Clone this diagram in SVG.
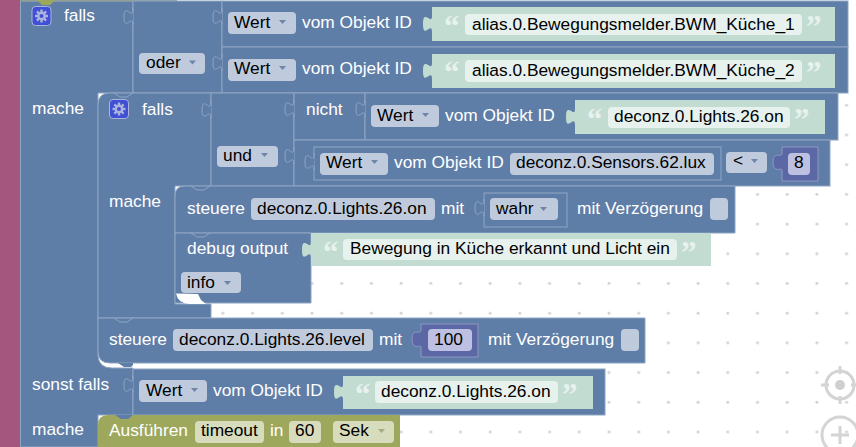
<svg xmlns="http://www.w3.org/2000/svg" width="856" height="447" viewBox="0 0 856 447">
<defs>
<pattern id="dots" x="0" y="0" width="29.7" height="29.7" patternUnits="userSpaceOnUse"><circle cx="15" cy="16" r="1.5" fill="#d2d2d2"/></pattern>
<g id="gear"><rect x="-9.500" y="-9.500" width="19" height="19" rx="3.500" fill="#3f4fd6" stroke="#aab4dc"/><path d="M0-6.500V6.500M-6.500 0H6.500M-4.600-4.600L4.600 4.600M-4.600 4.600L4.600-4.600" stroke="#aab4dc" stroke-width="2.400"/><circle r="4.400" fill="#aab4dc"/><circle r="2" fill="#3f4fd6"/></g>
<path id="tab" d="M0 0v2c0 10-9-8-9 7s9-3 9 7v1" fill="#5f7ea7" stroke="#8fa5c4"/>
<path id="gtab" d="M0 0v2c0 10-9-8-9 8s9-3 9 8v1" fill="#c3dcd2"/>
<path id="notch" d="M0 0l6 4h7l6-4" fill="none" stroke="#8fa5c4"/>
</defs>
<style>
text{font-family:"Liberation Sans",Arial,sans-serif;font-size:17.33px}
.w{fill:#fff}
.k{fill:#000}
.b{fill:#5f7ea7;stroke:#8fa5c4;stroke-width:1}
.s{fill:#c3dcd2}
.f{fill:#bfcbdd}
.v{fill:#bdc0e0}
.g{fill:#e7f1ed}
.q{font-family:"Liberation Serif",serif;font-size:31px;font-weight:bold;fill:#e7f1ed}
.a{fill:#6f84a8}
.n{fill:#5c68a6;stroke:#8f97c4}
.o{fill:#d7dcbc}
</style>
<rect width="856" height="447" fill="#fff"/>
<rect width="856" height="447" fill="url(#dots)"/>
<g id="controls" fill="none" stroke="#d4d4d4" stroke-width="3"><circle cx="840" cy="385" r="14"/><path d="M840 366v8M840 396v8M821 385h8M851 385h8"/><circle cx="840" cy="385" r="5" fill="#d0d0d0" stroke="none"/><circle cx="840" cy="435" r="18"/><path d="M840 426v18M831 435h18"/></g>
<rect id="sidebar" width="20" height="447" fill="#a5567f"/>
<g id="outer-if">
<path class="b" d="M20.500 1H133V93H98V356Q99 368 112 368H133V415H98V447H20.500Z"/>
<path d="M20 0H177V1.500H20Z" fill="#8f9f96"/><path d="M37 0l5 5h8l5-5Z" fill="#9da85c"/>
<text class="w" x="64" y="21">falls</text><text class="w" x="32" y="114">mache</text><text class="w" x="32" y="390">sonst falls</text><text class="w" x="32" y="435">mache</text>
<use href="#gear" x="41.500" y="16"/>
</g>
<g id="oder"><rect class="b" x="133" y="1" width="89" height="92"/><use href="#tab" x="133" y="8"/><rect class="f" x="139" y="53" width="66" height="21" rx="4"/><text class="k" x="146" y="68">oder</text><path class="a" d="M189 60.500h7l-3.500 4z"/></g>
<g id="wert1"><rect class="b" x="222" y="1" width="626" height="46"/><use href="#tab" x="222" y="8"/><rect class="f" x="228" y="12" width="68" height="22" rx="4"/><text class="k" x="234" y="28">Wert</text><path class="a" d="M279 20h7l-3.500 4z"/><text class="w" x="302" y="28">vom Objekt ID</text><rect class="s" x="432" y="7" width="403" height="34"/><use href="#gtab" x="432" y="14"/><text class="q" x="444" y="37">“</text><rect class="g" x="465" y="14" width="337" height="21" rx="4"/><text class="k" x="472" y="30">alias.0.Bewegungsmelder.BWM_Küche_1</text><text class="q" x="806" y="37">”</text></g>
<g id="wert2"><rect class="b" x="222" y="47" width="626" height="46"/><use href="#tab" x="222" y="54"/><rect class="f" x="228" y="59" width="68" height="22" rx="4"/><text class="k" x="234" y="74">Wert</text><path class="a" d="M279 66h7l-3.500 4z"/><text class="w" x="302" y="74">vom Objekt ID</text><rect class="s" x="432" y="54" width="403" height="34"/><use href="#gtab" x="432" y="61"/><text class="q" x="444" y="83">“</text><rect class="g" x="465" y="60" width="337" height="22" rx="4"/><text class="k" x="472" y="76">alias.0.Bewegungsmelder.BWM_Küche_2</text><text class="q" x="806" y="83">”</text></g>
<g id="inner-if"><path class="b" d="M98 105Q98 93 110 93H211V186H175V304H211V318H98Z"/><use href="#notch" x="114" y="93"/><text class="w" x="142" y="115">falls</text><text class="w" x="109" y="207">mache</text><use href="#gear" x="119" y="109"/></g>
<g id="und"><rect class="b" x="211" y="93" width="83" height="93"/><use href="#tab" x="211" y="101"/><rect class="f" x="217" y="146" width="61" height="21" rx="4"/><text class="k" x="223" y="161">und</text><path class="a" d="M261 153h7l-3.500 4z"/></g>
<g id="nicht"><rect class="b" x="294" y="93" width="71" height="47"/><use href="#tab" x="294" y="100"/><text class="w" x="306" y="115">nicht</text></g>
<g id="wert3"><rect class="b" x="365" y="93" width="473" height="47"/><use href="#tab" x="365" y="100"/><rect class="f" x="371" y="105" width="68" height="22" rx="4"/><text class="k" x="377" y="121">Wert</text><path class="a" d="M422 113h7l-3.500 4z"/><text class="w" x="445" y="121">vom Objekt ID</text><rect class="s" x="575" y="100" width="250" height="34"/><use href="#gtab" x="575" y="107"/><rect class="g" x="608" y="107" width="182" height="21" rx="4"/><text class="k" x="614" y="122">deconz.0.Lights.26.on</text><text class="q" x="587" y="130">“</text><text class="q" x="794" y="130">”</text></g>
<g id="compare"><rect class="b" x="294" y="140" width="536" height="46"/><use href="#tab" x="294" y="147"/><rect class="f" x="726" y="152" width="41" height="21" rx="4"/><text class="k" x="733" y="166">&lt;</text><path class="a" d="M751 159h7l-3.500 4z"/></g>
<g id="wert4"><rect class="b" x="314" y="147" width="407" height="33"/><use href="#tab" x="314" y="153"/><rect class="f" x="320" y="153" width="68" height="22" rx="4"/><text class="k" x="326" y="168">Wert</text><path class="a" d="M371 160h7l-3.500 4z"/><text class="w" x="394" y="168">vom Objekt ID</text><rect class="f" x="510" y="153" width="204" height="22" rx="4"/><text class="k" x="516" y="168">deconz.0.Sensors.62.lux</text></g>
<g id="num8"><path class="n" d="M782 147H818V181H782V170c0-3-9 4-9-8s9-3 9-9Z"/><rect class="v" x="788" y="153" width="22" height="22" rx="4"/><text class="k" x="794" y="168">8</text></g>
<g id="steuere1"><path class="b" d="M175 196Q175 186 185 186H735V233H175Z"/><use href="#notch" x="191" y="186"/><text class="w" x="187" y="214">steuere</text><rect class="f" x="251" y="198" width="184" height="22" rx="4"/><text class="k" x="257" y="214">deconz.0.Lights.26.on</text><text class="w" x="441" y="214">mit</text><rect class="b" x="484" y="193" width="83" height="34"/><use href="#tab" x="484" y="199"/><rect class="f" x="490" y="198" width="68" height="22" rx="4"/><text class="k" x="496" y="214">wahr</text><path class="a" d="M540 207h7l-3.500 4z"/><text class="w" x="577" y="214">mit Verzögerung</text><rect class="f" x="710" y="198" width="18" height="22" rx="4"/></g>
<g id="debug"><path class="b" d="M175 233H311V303H175Z"/><use href="#notch" x="191" y="233"/><path d="M176 293.500L198 294l3 6 5 4H190Q178 304 176 293.500Z" fill="#fff"/><text class="w" x="187" y="254">debug output</text><rect class="s" x="311" y="233" width="400" height="33"/><use href="#gtab" x="311" y="240"/><rect class="g" x="343" y="239" width="334" height="21" rx="4"/><text class="k" x="350" y="254">Bewegung in Küche erkannt und Licht ein</text><text class="q" x="323" y="263">“</text><text class="q" x="681" y="263">”</text><rect class="f" x="181" y="272" width="60" height="21" rx="4"/><text class="k" x="187" y="288">info</text><path class="a" d="M224 281h7l-3.500 4z"/></g>
<g id="steuere2"><path class="b" d="M98 318H645V363H110Q98 363 98 351Z"/><use href="#notch" x="114" y="318"/><path d="M118 363l6 4h7l2-2v-2Z" fill="#5f7ea7"/><text class="w" x="109" y="345">steuere</text><rect class="f" x="173" y="329" width="200" height="22" rx="4"/><text class="k" x="179" y="345">deconz.0.Lights.26.level</text><text class="w" x="379" y="345">mit</text><path class="n" d="M421 324H478V357H421V347c0-3-9 4-9-8s9-3 9-9Z"/><rect class="v" x="428" y="329" width="44" height="22" rx="4"/><text class="k" x="434" y="345">100</text><text class="w" x="488" y="345">mit Verzögerung</text><rect class="f" x="621" y="329" width="18" height="22" rx="4"/></g>
<g id="wert5"><rect class="b" x="133" y="369" width="472" height="46"/><use href="#tab" x="133" y="376"/><rect class="f" x="139" y="380" width="68" height="22" rx="4"/><text class="k" x="146" y="396">Wert</text><path class="a" d="M191 388h7l-3.500 4z"/><text class="w" x="213" y="396">vom Objekt ID</text><rect class="s" x="343" y="376" width="250" height="33"/><use href="#gtab" x="343" y="382"/><rect class="g" x="375" y="381" width="183" height="22" rx="4"/><text class="k" x="381" y="397">deconz.0.Lights.26.on</text><text class="q" x="355" y="405">“</text><text class="q" x="562" y="405">”</text></g>
<g id="timeout"><path d="M98 425Q98 415 108 415H400V447H98Z" fill="#9da85c"/><path d="M115 415l6 4h7l5-4Z" fill="#5f7ea7"/><text class="w" x="109" y="436">Ausführen</text><rect class="o" x="195" y="421" width="69" height="22" rx="4"/><text class="k" x="201" y="436">timeout</text><text class="w" x="270" y="436">in</text><rect class="o" x="289" y="421" width="32" height="22" rx="4"/><text class="k" x="295" y="436">60</text><rect class="o" x="333" y="421" width="61" height="22" rx="4"/><text class="k" x="339" y="436">Sek</text><path d="M378 429h7l-3.500 4z" fill="#858c5a" opacity=".6"/></g>
</svg>
